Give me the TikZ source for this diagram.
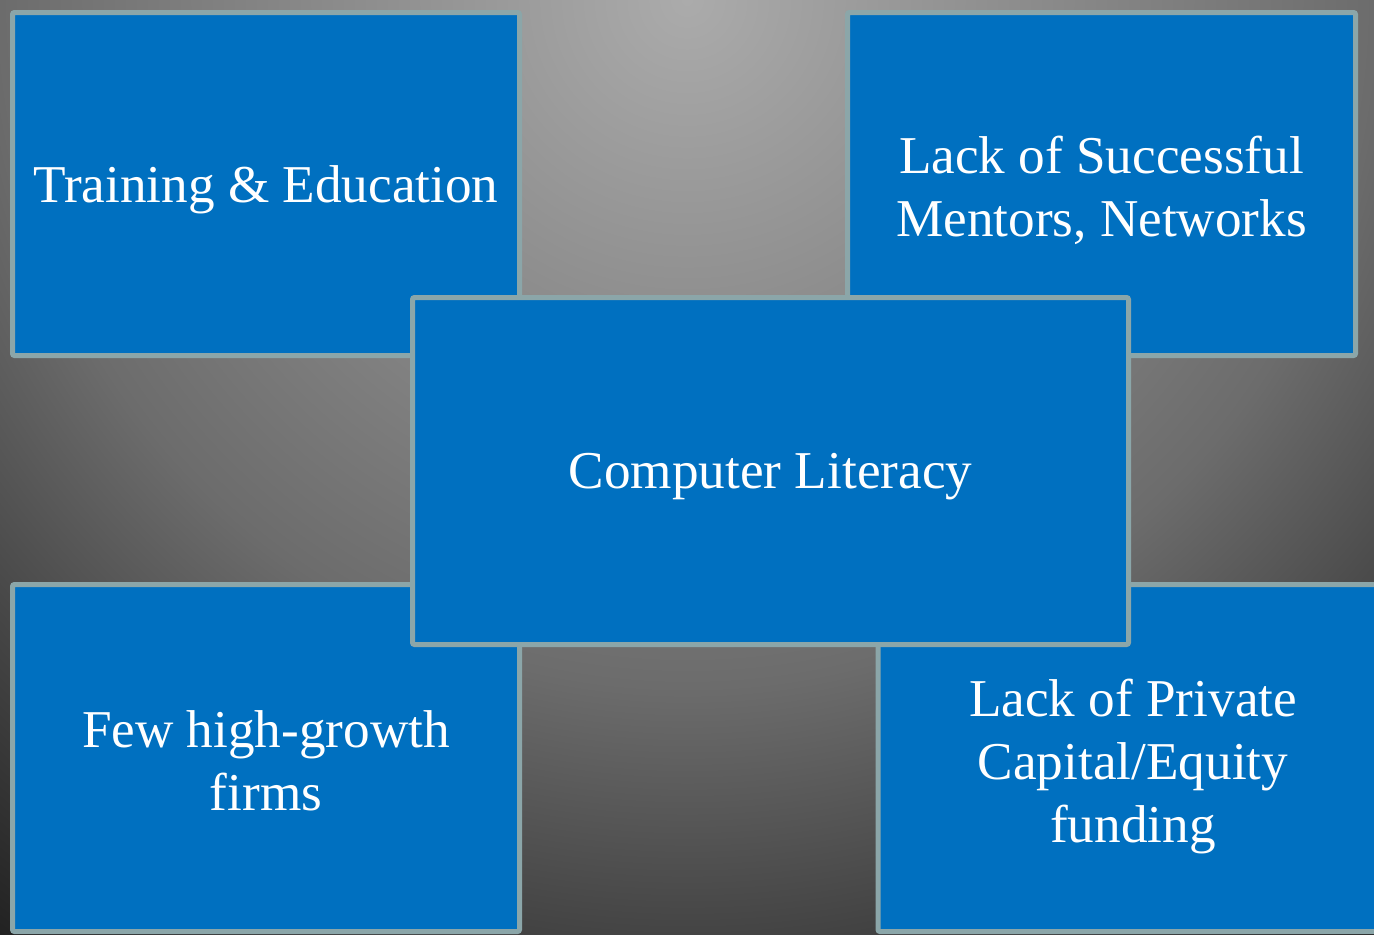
\documentclass[tikz,border=0pt]{standalone}
\usepackage{fontspec}
\setmainfont{Liberation Serif}
\definecolor{boxblue}{HTML}{0070C0}
\definecolor{boxedge}{HTML}{8BA6A9}
\definecolor{bgA}{HTML}{ABABAB}
\definecolor{bgB}{HTML}{6C6C6C}
\definecolor{bgC}{HTML}{444444}
\definecolor{bgD}{HTML}{222222}
\pgfdeclareradialshading{bgrad}{\pgfpoint{0bp}{0bp}}{color(0bp)=(bgA); color(14.8bp)=(bgB); color(20.15bp)=(bgC); color(25bp)=(bgD); color(50bp)=(bgD)}
\begin{document}
\begin{tikzpicture}[x=1pt,y=1pt,
  panel/.style={draw=boxedge, fill=boxblue, line width=2.5pt, rounded corners=1pt,
    inner sep=0pt},
  paneltext/.style={text=white, align=center, inner sep=0pt, yshift=-3pt,
    font=\fontsize{26.6}{31.5}\selectfont}]
\useasboundingbox (0,0) rectangle (687,-467);
\begin{scope}
  \clip (0,0) rectangle (687,-467);
  \shade[shading=bgrad] (343.5,0) circle (580);
\end{scope}
\node[panel, minimum width=253.5pt, minimum height=171.5pt,
  label={[paneltext]center:Training \& Education}] (te) at (133,-92) {};
\node[panel, minimum width=254pt, minimum height=171.5pt,
  label={[paneltext]center:{Lack of Successful\\Mentors, Networks}}] (mentors) at (550.75,-92) {};
\node[panel, minimum width=253.5pt, minimum height=173.5pt,
  label={[paneltext, yshift=1.5pt]center:{Few high-growth\\firms}}] (few) at (133,-379) {};
\node[panel, minimum width=255pt, minimum height=173.5pt,
  label={[paneltext, yshift=-1pt]center:{Lack of Private\\Capital/Equity\\funding}}] (capital) at (566.5,-379) {};
\node[panel, minimum width=358pt, minimum height=173.5pt,
  label={[paneltext]center:Computer Literacy}] (cl) at (385.25,-235.5) {};
\end{tikzpicture}
\end{document}
